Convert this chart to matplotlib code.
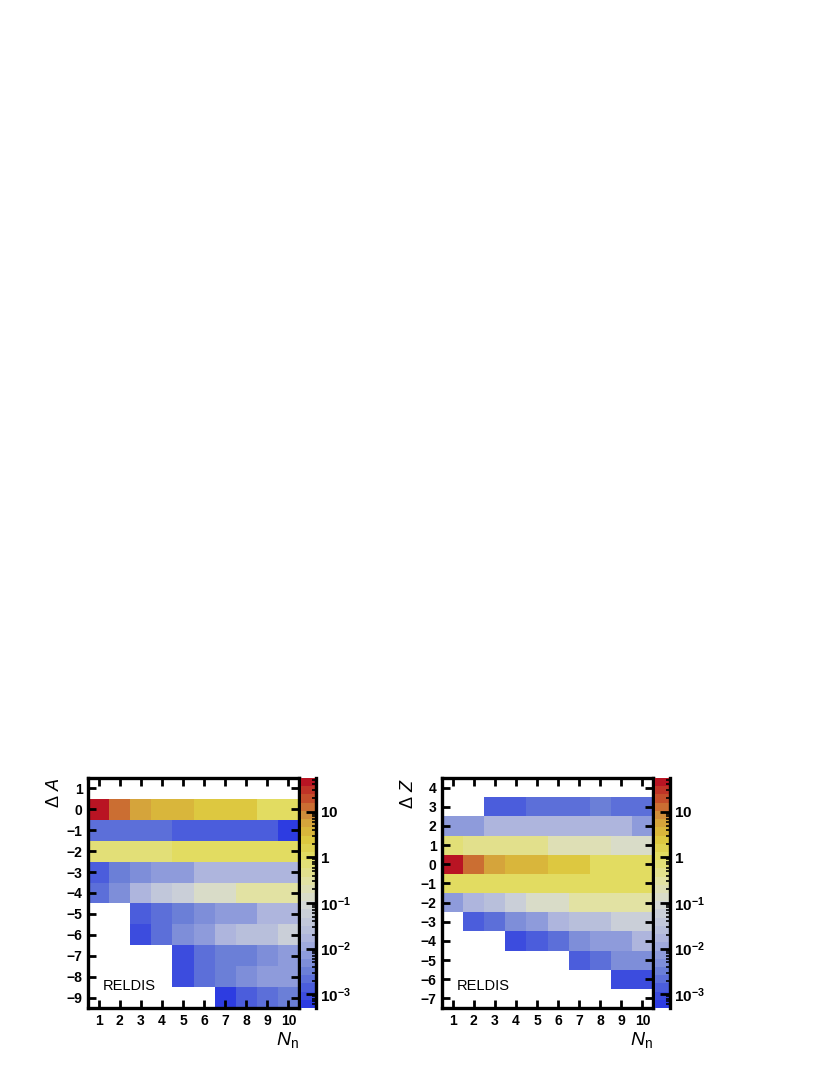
import numpy as np
import matplotlib
matplotlib.use("Agg")
import matplotlib.pyplot as plt
from matplotlib.colors import LinearSegmentedColormap, BoundaryNorm
from matplotlib.ticker import FixedLocator, LogLocator, NullFormatter

plt.rcParams['font.family'] = ['Liberation Sans', 'DejaVu Sans']
plt.rcParams['mathtext.fontset'] = 'custom'
plt.rcParams['mathtext.rm'] = 'Liberation Sans'
plt.rcParams['mathtext.it'] = 'Liberation Sans:italic'
plt.rcParams['mathtext.bf'] = 'Liberation Sans:bold'

nan = np.nan
n_neutrons = [1, 2, 3, 4, 5, 6, 7, 8, 9, 10]

# Delta A rows, top (1) to bottom (-9)
delta_a = [1, 0, -1, -2, -3, -4, -5, -6, -7, -8, -9]
counts_a = [
    [nan, nan, nan, nan, nan, nan, nan, nan, nan, nan],
    [40, 15, 6, 3.3, 3.3, 2.3, 2.3, 2.3, 1.3, 1.3],
    [2e-3, 2e-3, 2e-3, 2e-3, 1.2e-3, 1.2e-3, 1.2e-3, 1.2e-3, 1.2e-3, 7e-4],
    [0.6, 0.6, 0.6, 0.6, 1, 1, 1, 1, 1, 1],
    [1.5e-3, 3e-3, 5e-3, 8e-3, 8e-3, 0.015, 0.015, 0.015, 0.015, 0.015],
    [2.5e-3, 6e-3, 0.02, 0.04, 0.07, 0.13, 0.13, 0.28, 0.28, 0.28],
    [nan, nan, 1.5e-3, 2e-3, 3e-3, 5e-3, 8e-3, 8e-3, 0.015, 0.015],
    [nan, nan, 8e-4, 2e-3, 5e-3, 8e-3, 0.015, 0.03, 0.03, 0.06],
    [nan, nan, nan, nan, 8e-4, 2e-3, 3e-3, 3e-3, 5e-3, 8e-3],
    [nan, nan, nan, nan, 8e-4, 2e-3, 3e-3, 5e-3, 8e-3, 8e-3],
    [nan, nan, nan, nan, nan, nan, 7e-4, 1.2e-3, 2e-3, 3e-3],
]

# Delta Z rows, top (4) to bottom (-7)
delta_z = [4, 3, 2, 1, 0, -1, -2, -3, -4, -5, -6, -7]
counts_z = [
    [nan, nan, nan, nan, nan, nan, nan, nan, nan, nan],
    [nan, nan, 1.2e-3, 1.2e-3, 2e-3, 2e-3, 2e-3, 3.5e-3, 2e-3, 2e-3],
    [8e-3, 8e-3, 0.015, 0.015, 0.015, 0.015, 0.015, 0.015, 0.015, 8e-3],
    [0.8, 0.4, 0.4, 0.4, 0.4, 0.2, 0.2, 0.2, 0.12, 0.12],
    [40, 15, 6, 3.3, 3.3, 2.3, 2.3, 1.3, 1.3, 1.3],
    [1, 1, 1, 1, 1, 1, 1, 1, 1, 1],
    [8e-3, 0.015, 0.03, 0.06, 0.15, 0.15, 0.28, 0.28, 0.28, 0.28],
    [nan, 1.2e-3, 2.5e-3, 4e-3, 8e-3, 0.015, 0.03, 0.03, 0.06, 0.06],
    [nan, nan, nan, 9e-4, 1.5e-3, 2.5e-3, 5e-3, 8e-3, 8e-3, 0.015],
    [nan, nan, nan, nan, nan, nan, 1.3e-3, 2.5e-3, 4e-3, 4e-3],
    [nan, nan, nan, nan, nan, nan, nan, nan, 8e-4, 8e-4],
    [nan, nan, nan, nan, nan, nan, nan, nan, nan, nan],
]

cbar_ticks = [1e-3, 1e-2, 1e-1, 1, 10]
cbar_labels = ['$\\mathbf{10^{-3}}$', '$\\mathbf{10^{-2}}$', '$\\mathbf{10^{-1}}$',
               '$\\mathbf{1}$', '$\\mathbf{10}$']

cmap = LinearSegmentedColormap.from_list('lighttemp', [
    (0.00, (45/255, 60/255, 225/255)),
    (0.14, (105/255, 125/255, 215/255)),
    (0.28, (170/255, 178/255, 222/255)),
    (0.45, (214/255, 218/255, 214/255)),
    (0.55, (226/255, 226/255, 165/255)),
    (0.66, (226/255, 222/255, 100/255)),
    (0.75, (220/255, 196/255, 58/255)),
    (0.84, (210/255, 150/255, 60/255)),
    (0.91, (200/255, 90/255, 45/255)),
    (1.00, (185/255, 20/255, 35/255)),
])
levels = np.logspace(-3.3, 1.74, 29)
norm = BoundaryNorm(levels, cmap.N, clip=True)

fig = plt.figure(figsize=(8.3, 10.75), dpi=100)


def panel(x0, cx0, rows, data, ylab):
    ax = fig.add_axes([x0 / 830, 1 - 1008 / 1075, 211 / 830, 230 / 1075])
    cax = fig.add_axes([cx0 / 830, 1 - 1008 / 1075, 15 / 830, 230 / 1075])
    xe = np.arange(0.5, len(n_neutrons) + 1, 1.0)
    ye = np.arange(min(rows) - 0.5, max(rows) + 1, 1.0)
    z = np.ma.masked_invalid(np.array(data[::-1], dtype=float))
    mesh = ax.pcolormesh(xe, ye, z, cmap=cmap, norm=norm)
    ax.set_xlim(0.5, 10.5)
    ax.set_ylim(min(rows) - 0.5, max(rows) + 0.5)
    ax.set_xticks(n_neutrons)
    ax.set_yticks(rows)
    ax.set_yticklabels(['\u2212%d' % -r if r < 0 else str(r) for r in rows])
    ax.tick_params(direction='in', length=6, width=2, top=True, right=True,
                   labelsize=10, pad=4)
    for lab in ax.get_xticklabels() + ax.get_yticklabels():
        lab.set_fontweight('bold')
    for s in ax.spines.values():
        s.set_linewidth(2.4)
    ax.text(0.07, 0.08, 'RELDIS', transform=ax.transAxes, fontsize=10.5)
    ax.text(-0.16, 1.0, ylab, transform=ax.transAxes, rotation=90,
            ha='center', va='top', fontsize=13)
    ax.text(1.0, -0.14, '$N_{\\mathrm{n}}$', transform=ax.transAxes,
            ha='right', va='center', fontsize=14)

    cb = fig.colorbar(mesh, cax=cax)
    cb.outline.set_visible(False)
    cax.set_yscale('log')
    cax.set_ylim(levels[0], levels[-1])
    cax.yaxis.set_major_locator(FixedLocator(cbar_ticks))
    cax.set_yticklabels(cbar_labels)
    cax.yaxis.set_minor_locator(LogLocator(base=10, subs=np.arange(2, 10)))
    cax.yaxis.set_minor_formatter(NullFormatter())
    cax.tick_params(which='major', direction='in', length=7, width=2, labelsize=11, pad=3)
    cax.tick_params(which='minor', direction='in', length=3, width=1.2)
    cax.spines['right'].set_visible(True)
    cax.spines['right'].set_linewidth(2.4)
    for k in ('left', 'top', 'bottom'):
        cax.spines[k].set_visible(False)


panel(88, 301, delta_a, counts_a, '$\\Delta\\ A$')
panel(442, 655, delta_z, counts_z, '$\\Delta\\ Z$')

fig.savefig('out.png', dpi=100)
